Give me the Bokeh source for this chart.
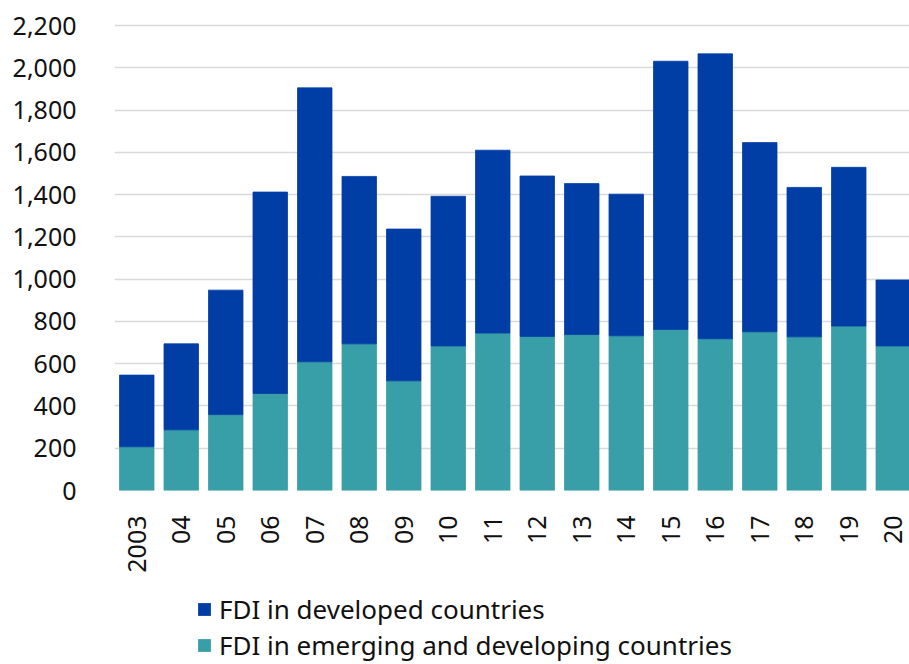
import math

from bokeh.plotting import figure
from bokeh.layouts import column
from bokeh.models import (ColumnDataSource, Range1d, FixedTicker,
                          NumeralTickFormatter, Legend, LegendItem)
from bokeh.embed import file_html
from bokeh.resources import INLINE

# Foreign direct investment by destination (USD bn)
years = ["2003", "04", "05", "06", "07", "08", "09", "10", "11",
         "12", "13", "14", "15", "16", "17", "18", "19", "20"]
emerging = [207, 287, 359, 459, 609, 694, 519, 684, 745,
            729, 738, 732, 762, 718, 751, 727, 778, 684]
developed = [339, 407, 589, 953, 1296, 792, 718, 708, 865,
             759, 714, 670, 1269, 1348, 895, 707, 751, 312]
y_ticks = [0, 200, 400, 600, 800, 1000, 1200, 1400, 1600, 1800, 2000, 2200]

labels = ["FDI in developed countries",
          "FDI in emerging and developing countries"]
BLUE = "#003DA5"
TEAL = "#389EA8"
FONT = "Noto Sans"
TEXT = "#111111"

src = ColumnDataSource(dict(x=list(range(len(years))),
                            emerging=emerging, developed=developed))

p = figure(width=909, height=575,
           x_range=Range1d(-0.5, 17.365), y_range=Range1d(0, 2271),
           output_backend="svg", toolbar_location=None,
           min_border_left=114, min_border_right=0,
           min_border_top=10, min_border_bottom=85)

stack = p.vbar_stack(["emerging", "developed"], x="x", width=0.775,
                     fill_color=[TEAL, BLUE], line_color=[TEAL, BLUE],
                     line_width=0.8, source=src)

p.outline_line_color = None
p.xgrid.grid_line_color = None
p.ygrid.grid_line_color = "#d9d9d9"
p.ygrid.grid_line_width = 1.5
p.ygrid.ticker = FixedTicker(ticks=y_ticks)

yax = p.yaxis[0]
yax.ticker = FixedTicker(ticks=y_ticks)
yax.formatter = NumeralTickFormatter(format="0,0")
yax.axis_line_color = None
yax.major_tick_line_color = None
yax.minor_tick_line_color = None
yax.major_label_standoff = 32
yax.major_label_text_font = FONT
yax.major_label_text_font_size = "25px"
yax.major_label_text_color = TEXT

xax = p.xaxis[0]
xax.ticker = FixedTicker(ticks=list(range(len(years))))
xax.major_label_overrides = {i: y for i, y in enumerate(years)}
xax.major_label_orientation = math.pi / 2
xax.axis_line_color = None
xax.major_tick_line_color = None
xax.minor_tick_line_color = None
xax.major_label_standoff = 19
xax.major_label_text_font = FONT
xax.major_label_text_font_size = "25px"
xax.major_label_text_color = TEXT

# legend strip below the chart; its swatch renderers hold zero-height bars
key = figure(width=909, height=89, x_range=Range1d(0, 909),
             y_range=Range1d(0, 89), output_backend="svg",
             toolbar_location=None, x_axis_type=None, y_axis_type=None,
             min_border=0)
key.outline_line_color = None
key.xgrid.grid_line_color = None
key.ygrid.grid_line_color = None
swatch_dev = key.vbar(x=[0], top=[0], width=1, fill_color=BLUE, line_color=None)
swatch_em = key.vbar(x=[0], top=[0], width=1, fill_color=TEAL, line_color=None)

legend = Legend(items=[LegendItem(label=labels[0], renderers=[swatch_dev]),
                       LegendItem(label=labels[1], renderers=[swatch_em])],
                location=(82, 1), orientation="vertical",
                border_line_color=None, background_fill_alpha=0,
                padding=0, margin=0, spacing=0, label_height=34,
                glyph_height=16, glyph_width=16, label_standoff=7,
                label_text_font=FONT, label_text_font_size="26px",
                label_text_color=TEXT)
key.add_layout(legend)

page = column(p, key, spacing=0)
open("out.html", "w").write(file_html(page, INLINE))
